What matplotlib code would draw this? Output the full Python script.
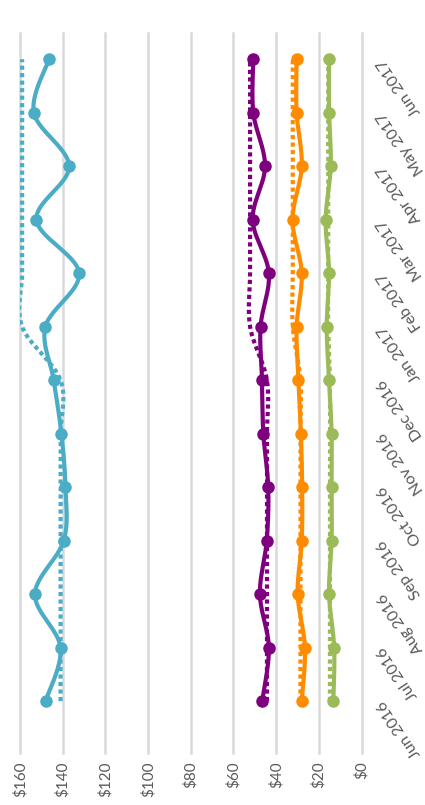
import numpy as np
import matplotlib
matplotlib.use("Agg")
import matplotlib.pyplot as plt

months = ["Jun 2016", "Jul 2016", "Aug 2016", "Sep 2016", "Oct 2016", "Nov 2016",
          "Dec 2016", "Jan 2017", "Feb 2017", "Mar 2017", "Apr 2017", "May 2017", "Jun 2017"]

blue_actual = [148, 141, 153, 139.5, 138.7, 140.6, 144.2, 148.1, 132.3, 152.3, 137.0, 153.5, 146.4]
blue_target = [141, 141, 141, 141, 141, 141, 141, 159, 159, 159, 159, 159, 159]

purple_actual = [46.5, 43.4, 47.6, 44.4, 43.7, 46.0, 46.6, 47.3, 43.4, 51.0, 45.2, 50.7, 50.7]
purple_target = [44.3, 44.3, 44.3, 44.3, 44.3, 44.3, 44.3, 52.2, 52.2, 52.2, 52.2, 52.2, 52.2]

orange_actual = [28.0, 26.5, 29.9, 28.0, 27.8, 28.4, 29.6, 30.4, 28.0, 32.3, 28.0, 30.4, 30.4]
orange_target = [28.6, 28.6, 28.6, 28.6, 28.6, 28.6, 28.6, 32.2, 32.2, 32.2, 32.2, 32.2, 32.2]

green_actual = [13.2, 12.8, 15.2, 14.0, 14.0, 14.0, 15.2, 16.3, 15.2, 16.8, 14.4, 15.2, 15.2]
green_target = [14.8, 14.8, 14.8, 14.8, 14.8, 14.8, 14.8, 15.6, 15.6, 15.6, 15.6, 15.6, 15.6]

value_ticks = [160, 140, 120, 100, 80, 60, 40, 20, 0]
value_labels = ["$160", "$140", "$120", "$100", "$80", "$60", "$40", "$20", "$0"]

series = [
    (blue_actual, blue_target, "#4BACC6"),
    (purple_actual, purple_target, "#7F007F"),
    (orange_actual, orange_target, "#FF8C00"),
    (green_actual, green_target, "#9BBB59"),
]


def smooth(xs, ys, n=30):
    """Catmull-Rom style Bezier smoothing (like spreadsheet smoothed lines)."""
    P = np.column_stack([xs, ys]).astype(float)
    ext = np.vstack([P[0], P, P[-1]])
    out = []
    t = np.linspace(0, 1, n)[:, None]
    for i in range(len(P) - 1):
        p0, p1, p2, p3 = ext[i], ext[i + 1], ext[i + 2], ext[i + 3]
        c1 = p1 + (p2 - p0) / 6.0
        c2 = p2 - (p3 - p1) / 6.0
        seg = ((1 - t) ** 3) * p1 + 3 * ((1 - t) ** 2) * t * c1 + 3 * (1 - t) * t ** 2 * c2 + t ** 3 * p2
        out.append(seg if i == 0 else seg[1:])
    S = np.vstack(out)
    return S[:, 0], S[:, 1]


W, H = 425, 805
fig = plt.figure(figsize=(W / 100, H / 100), dpi=100)
ax = fig.add_axes([20 / W, (H - 753) / H, (361.5 - 20) / W, (753 - 33) / H])

idx = np.arange(len(months))
for actual, target, color in series:
    sy, sx = smooth(idx, actual)
    ax.plot(sx, sy, color=color, lw=3, solid_capstyle="round", zorder=3)
    ax.plot(actual, idx, linestyle="none", marker="o", ms=8, color=color, zorder=4)
    ty, tx = smooth(idx, target)
    ax.plot(tx, ty, color=color, lw=3, linestyle=(0, (1.0, 0.8)), dash_capstyle="butt", zorder=5)

ax.set_xlim(160, 0)
ax.set_ylim(-0.97, 12.49)
ax.set_xticks(value_ticks)
ax.set_xticklabels(value_labels)
ax.set_yticks(idx)
ax.set_yticklabels(months)
ax.yaxis.tick_right()

for s in ax.spines.values():
    s.set_visible(False)
ax.xaxis.grid(True, color="#D9D9D9", lw=1.8)
ax.set_axisbelow(True)
for gl in ax.get_xgridlines():
    gl.set_clip_on(False)

ax.tick_params(axis="both", length=0, colors="#595959")
for lab in ax.get_xticklabels():
    lab.set_rotation(90)
    lab.set_fontsize(11)
    lab.set_fontfamily("Lato")
    lab.set_color("#595959")
ax.tick_params(axis="x", pad=6)
for lab in ax.get_yticklabels():
    lab.set_rotation(124)
    lab.set_rotation_mode("anchor")
    lab.set_ha("right")
    lab.set_va("center")
    lab.set_fontsize(11.5)
    lab.set_fontfamily("Lato")
    lab.set_color("#595959")
ax.tick_params(axis="y", pad=14)

fig.savefig("out.png", dpi=100)
